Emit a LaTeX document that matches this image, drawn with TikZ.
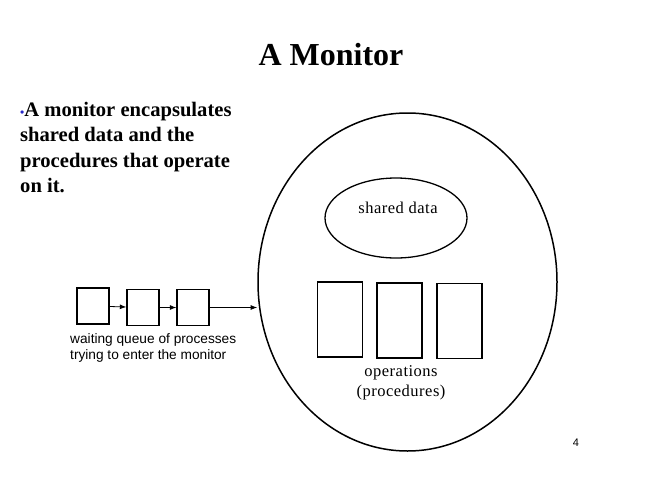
\documentclass[tikz,border=0pt]{standalone}
\usepackage{fontspec}
\setmainfont{Liberation Serif}
\setsansfont{Liberation Sans}
\usepackage{xcolor}
\usetikzlibrary{arrows.meta,shapes.geometric}
\definecolor{bulletblue}{RGB}{40,40,200}

\begin{document}
\begin{tikzpicture}[x=1pt, y=-1pt, >=Latex,
    box/.style={draw, line width=1.2pt, minimum width=32pt, minimum height=36pt, inner sep=0pt},
    proc/.style={draw, line width=1.2pt, minimum width=45pt, minimum height=75pt, inner sep=0pt},
    label/.style={inner sep=0pt, font=\fontsize{16.5}{18}\selectfont\addfontfeatures{LetterSpace=3}}]
    \useasboundingbox (0,0) rectangle (650,487);
    % title and bullet
    \node[inner sep=0pt, font=\fontsize{32}{36}\selectfont\bfseries] (title) at (331,55) {A Monitor};
    \node[inner sep=0pt, anchor=north west, align=left,
          font=\fontsize{20.6}{25.5}\selectfont\bfseries] (intro) at (20,102)
          {\textcolor{bulletblue}{\fontsize{12}{12}\selectfont•}A monitor encapsulates\\
           shared data and the\\
           procedures that operate\\
           on it.};
    % the monitor
    \node[draw, line width=1.5pt, ellipse, minimum width=299pt, minimum height=338pt, inner sep=0pt] (monitor) at (407.5,282) {};
    \node[draw, line width=1.3pt, ellipse, minimum width=142pt, minimum height=80pt, inner sep=0pt] (shared) at (396,218) {};
    \node[label] (sharedtxt) at (398,208) {shared data};
    \node[proc] (op1) at (340,319.5) {};
    \node[proc] (op2) at (399.5,320.5) {};
    \node[proc] (op3) at (459.5,321) {};
    \node[label] (ops) at (401,373) {operations};
    \node[label] (procs) at (401,393) {(procedures)};
    % waiting queue
    \node[box] (q1) at (93,306) {};
    \node[box] (q2) at (143,307.5) {};
    \node[box] (q3) at (193,307.5) {};
    \draw[->, line width=0.8pt] (q1) -- (q2);
    \draw[->, line width=0.8pt] (q2) -- (q3);
    \draw[->, line width=0.8pt] (q3) -- (q3 -| monitor.west);
    \node[inner sep=0pt, anchor=north west, align=left,
          font=\sffamily\fontsize{13.7}{16}\selectfont] (queuetxt) at (70,333)
          {waiting queue of processes\\trying to enter the monitor};
    \node[inner sep=0pt, font=\sffamily\fontsize{11}{12}\selectfont] (page) at (576,443) {4};
\end{tikzpicture}
\end{document}
